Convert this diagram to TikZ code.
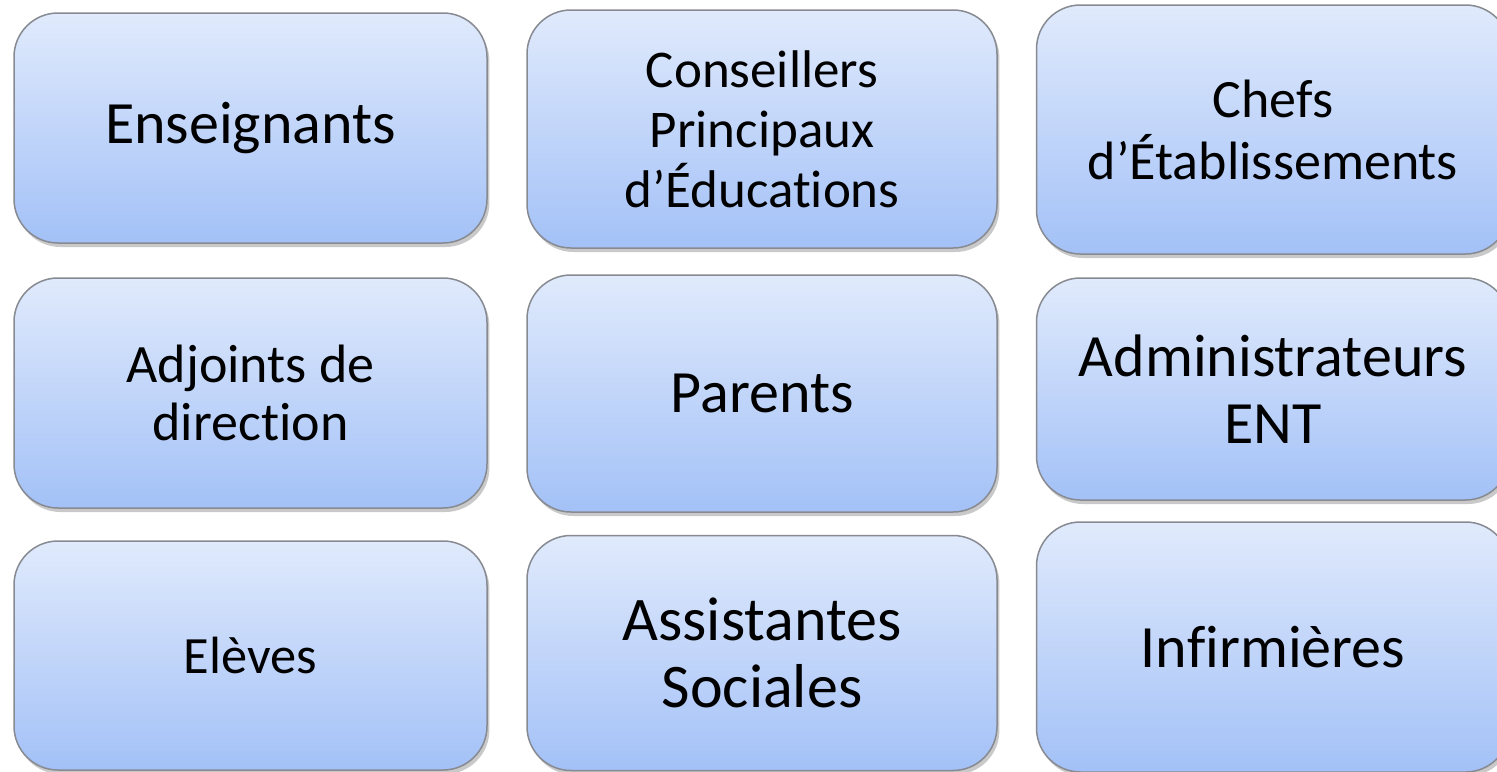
\documentclass[tikz,border=0pt]{standalone}
\usepackage{fontspec}
\setmainfont{Carlito}[Ligatures=NoCommon]
\usetikzlibrary{shadows}

\definecolor{boxtop}{RGB}{224,234,252}
\definecolor{boxbot}{RGB}{163,193,247}
\definecolor{boxline}{RGB}{135,138,145}

\tikzset{
  rolebox/.style={rectangle, rounded corners=22pt, draw=boxline, line width=0.75pt,
    top color=boxtop, bottom color=boxbot, align=center, inner sep=0pt,
    drop shadow={shadow xshift=1.2pt, shadow yshift=-2pt, opacity=0.3, fill=black!70}},
  boxsize/.style 2 args={minimum width=#1*0.5pt, minimum height=#2*0.5pt},
  rolefont/.style 2 args={font=\fontsize{#1}{#2}\selectfont}
}

\begin{document}
\begin{tikzpicture}[x=0.5pt,y=-0.5pt]
\useasboundingbox (0,0) rectangle (1497,771);
% first row
\node (ens) at (250.5,128) [rolebox, boxsize={473}{230}, rolefont={30pt}{36pt}] {Enseignants};
\node (cpe) at (762,129) [rolebox, boxsize={470}{238}, rolefont={26.5pt}{30pt}] {Conseillers\\Principaux\\d’Éducations};
\node (chefs) at (1273,129.5) [rolebox, boxsize={473}{249}, rolefont={27pt}{31pt}] {Chefs\\d’Établissements};
% second row
\node (adj) at (250.5,393) [rolebox, boxsize={473}{230}, rolefont={27pt}{29pt}] {Adjoints de\\direction};
\node (par) at (762,393.5) [rolebox, boxsize={470}{237}, rolefont={30pt}{36pt}] {Parents};
\node (adm) at (1273,389) [rolebox, boxsize={473}{222}, rolefont={30pt}{33.5pt}] {Administrateurs\\ENT};
% third row
\node (elv) at (250.5,655.5) [rolebox, boxsize={473}{229}, rolefont={26.2pt}{32pt}] {Elèves};
\node (ass) at (762,653) [rolebox, boxsize={470}{235}, rolefont={31pt}{33.5pt}] {Assistantes\\Sociales};
\node (inf) at (1273,647) [rolebox, boxsize={473}{250}, rolefont={30pt}{36pt}] {Infirmières};
\end{tikzpicture}
\end{document}
